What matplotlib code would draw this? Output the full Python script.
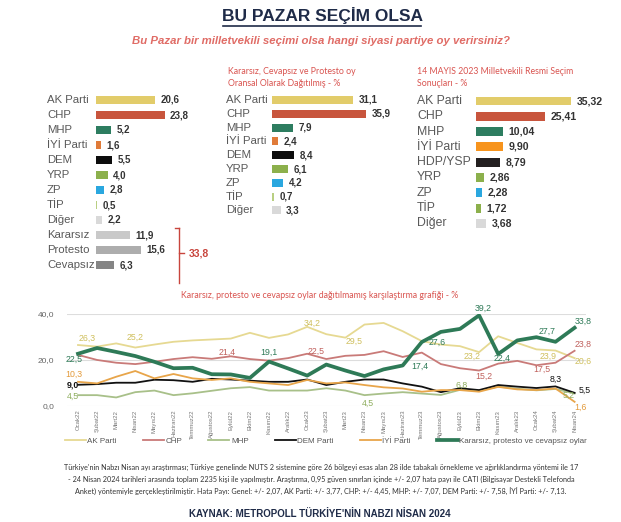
import matplotlib
matplotlib.use('Agg')
import matplotlib.pyplot as plt
from matplotlib.transforms import blended_transform_factory
from matplotlib.lines import Line2D

plt.rcParams['font.family'] = ['Liberation Sans', 'DejaVu Sans']

# ---------------- data ----------------
p1_labels = ['AK Parti', 'CHP', 'MHP', 'İYİ Parti', 'DEM', 'YRP', 'ZP', 'TİP', 'Diğer',
             'Kararsız', 'Protesto', 'Cevapsız']
p1_values = [20.6, 23.8, 5.2, 1.6, 5.5, 4.0, 2.8, 0.5, 2.2, 11.9, 15.6, 6.3]

p2_labels = ['AK Parti', 'CHP', 'MHP', 'İYİ Parti', 'DEM', 'YRP', 'ZP', 'TİP', 'Diğer']
p2_values = [31.1, 35.9, 7.9, 2.4, 8.4, 6.1, 4.2, 0.7, 3.3]

p3_labels = ['AK Parti', 'CHP', 'MHP', 'İYİ Parti', 'HDP/YSP', 'YRP', 'ZP', 'TİP', 'Diğer']
p3_values = [35.32, 25.41, 10.04, 9.90, 8.79, 2.86, 2.28, 1.72, 3.68]

months = ['Ocak22', 'Şubat22', 'Mart22', 'Nisan22', 'Mayıs22', 'Haziran22', 'Temmuz22',
          'Ağustos22', 'Eylül22', 'Ekim22', 'Kasım22', 'Aralık22', 'Ocak23', 'Şubat23',
          'Mart23', 'Nisan23', 'Mayıs23', 'Haziran23', 'Temmuz23', 'Ağustos23', 'Eylül23',
          'Ekim23', 'Kasım23', 'Aralık23', 'Ocak24', 'Şubat24', 'Nisan24']
ak_parti = [26.3, 25.6, 27.0, 25.2, 26.5, 27.7, 28.3, 28.7, 29.1, 31.6, 29.4, 30.9, 34.2, 31.0,
            29.5, 35.2, 35.9, 32.3, 28.0, 26.5, 25.8, 23.2, 30.1, 27.2, 24.4, 23.9, 20.6]
chp = [22.0, 19.8, 18.6, 18.0, 19.0, 20.2, 21.0, 20.3, 21.4, 20.2, 19.5, 20.6, 22.5, 20.2,
       21.6, 22.0, 23.6, 21.1, 23.0, 18.0, 16.2, 15.2, 18.2, 19.4, 17.5, 18.6, 23.8]
mhp = [4.5, 4.5, 3.5, 5.8, 6.5, 4.5, 5.3, 6.4, 7.5, 8.0, 6.5, 6.5, 6.5, 7.5, 6.5, 4.5, 5.2,
       5.8, 5.2, 4.6, 6.8, 6.5, 8.2, 7.3, 6.6, 7.2, 5.2]
dem = [9.0, 9.3, 9.9, 9.9, 11.2, 11.0, 10.3, 11.6, 11.3, 10.8, 10.3, 10.3, 11.3, 8.9, 10.3,
       11.3, 11.3, 9.6, 8.2, 5.8, 7.5, 6.7, 8.9, 8.2, 7.6, 8.3, 5.5]
iyi = [10.3, 9.6, 12.5, 15.0, 11.8, 13.7, 11.8, 11.1, 11.8, 10.3, 9.6, 8.9, 11.1, 9.6, 10.0,
       8.9, 7.9, 7.4, 6.0, 6.7, 6.7, 6.0, 8.1, 7.0, 6.7, 7.4, 1.6]
kararsiz = [22.5, 25.0, 23.3, 21.5, 19.0, 16.2, 16.4, 13.6, 13.5, 12.0, 19.1, 16.1, 13.0, 17.8,
            15.2, 12.8, 15.7, 17.4, 27.6, 32.0, 33.3, 39.2, 22.4, 28.3, 29.7, 27.7, 33.8]

# ---------------- figure ----------------
W, H = 621, 522
fig = plt.figure(figsize=(W / 100, H / 100), dpi=100)
fig.patch.set_facecolor('white')


def fx(x):
    return x / W


def fy(y):
    return 1 - y / H


def comma(v, d=1):
    return f"{v:.{d}f}".replace('.', ',')


NAVY = '#1f2b48'
RED_T = '#d9534f'

# titles
fig.text(fx(322), fy(15), 'BU PAZAR SEÇİM OLSA', ha='center', va='center',
         fontsize=12.5, fontweight='bold', color=NAVY)
fig.add_artist(Line2D([fx(223), fx(421)], [fy(25.5), fy(25.5)], color=NAVY, lw=1.2))
fig.text(fx(321), fy(41), 'Bu Pazar bir milletvekili seçimi olsa hangi siyasi partiye oy verirsiniz?',
         ha='center', va='center', fontsize=8.2, fontweight='bold', style='italic', color='#e06c66')

fig.text(fx(228), fy(71), 'Kararsız, Cevapsız ve Protesto oy', ha='left', va='center',
         fontsize=6.3, color=RED_T, family=['Lato', 'DejaVu Sans'])
fig.text(fx(228), fy(84), 'Oransal Olarak Dağıtılmış - %', ha='left', va='center',
         fontsize=6.3, color=RED_T, family=['Lato', 'DejaVu Sans'])
fig.text(fx(417), fy(71), '14 MAYIS 2023 Milletvekili Resmi Seçim', ha='left', va='center',
         fontsize=6.3, color=RED_T, family=['Lato', 'DejaVu Sans'])
fig.text(fx(417), fy(84), 'Sonuçları - %', ha='left', va='center',
         fontsize=6.3, color=RED_T, family=['Lato', 'DejaVu Sans'])


def bar_panel(left_px, scale, xmax, first_row_px, spacing, labels, values, colors, dec,
              label_x_px, lab_fs, val_fs, bar_h, val_off=4):
    n = len(labels)
    width_px = scale * xmax
    top = first_row_px - spacing / 2
    height_px = spacing * n
    ax = fig.add_axes([fx(left_px), fy(top + height_px), width_px / W, height_px / H])
    ax.set_xlim(0, xmax)
    ax.set_ylim(n - 0.5, -0.5)
    ax.axis('off')
    ax.barh(range(n), values, height=bar_h, color=colors)
    tr = blended_transform_factory(ax.transAxes, ax.transData)
    for i, (lab, v) in enumerate(zip(labels, values)):
        ax.text((label_x_px - left_px) / width_px, i, lab, transform=tr, ha='left',
                va='center', fontsize=lab_fs, color='#595959')
        ax.annotate(comma(v, dec), (v, i), xytext=(val_off, 0), textcoords='offset points',
                    ha='left', va='center', fontsize=val_fs, fontweight='bold', color='#333333')
    return ax


c_ak, c_chp, c_mhp, c_iyi, c_dem = '#e2cc6a', '#c8553d', '#2d7d60', '#e07b39', '#0d0d0d'
c_yrp, c_zp, c_tip, c_dig = '#8cb04c', '#2aa7df', '#b9cf82', '#d9d9d9'

p1_colors = [c_ak, c_chp, c_mhp, c_iyi, c_dem, c_yrp, c_zp, c_tip, c_dig,
             '#c9c9c9', '#adadad', '#858585']
ax1 = bar_panel(96, 2.88, 30, 100, 15, p1_labels, p1_values, p1_colors, 1, 47, 8.2, 7, 0.55)

p2_colors = [c_ak, c_chp, c_mhp, c_iyi, c_dem, c_yrp, c_zp, c_tip, c_dig]
bar_panel(272, 2.62, 40, 100, 13.8, p2_labels, p2_values, p2_colors, 1, 226, 8.2, 7, 0.58)

p3_colors = [c_ak, c_chp, c_mhp, '#f7941d', '#231f20', '#8cb04c', '#2aa7df', '#8cb04c', c_dig]
bar_panel(476, 2.70, 40, 101, 15.3, p3_labels, p3_values, p3_colors, 2, 417, 8.8, 7.6, 0.58)

# bracket for undecided / protest / no answer
tot = sum(p1_values[9:])
bx = 179
for xs, ys in [([175, bx], [228, 228]), ([bx, bx], [228, 283]), ([bx, 184], [253, 253])]:
    fig.add_artist(Line2D([fx(v) for v in xs], [fy(v) for v in ys], color='#c8453d', lw=1.0))
fig.text(fx(189), fy(253), comma(tot), ha='left', va='center', fontsize=7.5,
         fontweight='bold', color='#c8453d')

# ---------------- line chart ----------------
x0, dx = 78, 19.1
y0, dy = 405.5, 2.3
xl, xr = -0.6, 26.6
axl = fig.add_axes([fx(x0 + xl * dx), fy(y0), (xr - xl) * dx / W, 40 * dy / H])
axl.set_xlim(xl, xr)
axl.set_ylim(0, 40)
xs = list(range(len(months)))

col_ak, col_chp, col_mhp, col_dem, col_iyi, col_k = '#e6d992', '#c97a78', '#a8c089', '#111111', '#e8a54a', '#2e7a57'
axl.plot(xs, ak_parti, color=col_ak, lw=1.3, label='AK Parti')
axl.plot(xs, chp, color=col_chp, lw=1.3, label='CHP')
axl.plot(xs, mhp, color=col_mhp, lw=1.3, label='MHP')
axl.plot(xs, dem, color=col_dem, lw=1.3, label='DEM Parti')
axl.plot(xs, iyi, color=col_iyi, lw=1.3, label='İYİ Parti')
axl.plot(xs, kararsiz, color=col_k, lw=2.7, label='Kararsız, protesto ve cevapsız oylar')

axl.set_yticks([0, 20, 40])
axl.set_yticklabels(['0,0', '20,0', '40,0'], fontsize=6, color='#666666')
axl.set_xticks(xs)
axl.set_xticklabels(months, rotation=90, fontsize=4.3, color='#777777')
axl.tick_params(axis='x', length=0, pad=3)
axl.tick_params(axis='y', length=0, pad=9)
axl.grid(axis='y', color='#dddddd', lw=0.8)
axl.set_axisbelow(True)
for s in axl.spines.values():
    s.set_visible(False)

fig.text(fx(320), fy(296), 'Kararsız, protesto ve cevapsız oylar dağıtılmamış karşılaştırma grafiği - %',
         ha='center', va='center', fontsize=6.3, color=RED_T, family=['Lato', 'DejaVu Sans'])

lab_ak, lab_chp, lab_mhp, lab_dem, lab_iyi, lab_k = '#cfbf5c', '#c0605c', '#8fae5f', '#111111', '#e39a3a', '#2e7a57'
annots = [
    (ak_parti, 0, lab_ak, 9, 7, 'center', 'normal'),
    (ak_parti, 3, lab_ak, 0, 10, 'center', 'normal'),
    (kararsiz, 0, lab_k, -3.5, -6, 'center', 'normal'),
    (iyi, 0, lab_iyi, -4, 7, 'center', 'normal'),
    (dem, 0, lab_dem, -5, 0, 'center', 'bold'),
    (mhp, 0, lab_mhp, -5, -1, 'center', 'normal'),
    (chp, 8, lab_chp, -4, 4, 'center', 'normal'),
    (kararsiz, 10, lab_k, 0, 9, 'center', 'normal'),
    (chp, 12, lab_chp, 9, 2, 'center', 'normal'),
    (ak_parti, 12, lab_ak, 5, 4, 'center', 'normal'),
    (ak_parti, 14, lab_ak, 9, -4, 'center', 'normal'),
    (kararsiz, 17, lab_k, 17, -1, 'center', 'normal'),
    (kararsiz, 18, lab_k, 15, 0, 'center', 'normal'),
    (mhp, 15, lab_mhp, 3, -8, 'center', 'normal'),
    (mhp, 20, lab_mhp, 2, 5, 'center', 'normal'),
    (ak_parti, 21, lab_ak, -7, -4, 'center', 'normal'),
    (kararsiz, 21, lab_k, 4, 7, 'center', 'normal'),
    (kararsiz, 22, lab_k, 4, -4, 'center', 'normal'),
    (chp, 21, lab_chp, 5, -6, 'center', 'normal'),
    (kararsiz, 25, lab_k, -8, 10, 'center', 'normal'),
    (ak_parti, 25, lab_ak, -7, -6, 'center', 'normal'),
    (chp, 24, lab_chp, 5, -4, 'center', 'normal'),
    (dem, 25, lab_dem, 0, 7, 'center', 'normal'),
    (kararsiz, 26, lab_k, 0, 6, 'left', 'normal'),
    (chp, 26, lab_chp, 0, 6, 'left', 'normal'),
    (ak_parti, 26, lab_ak, 0, -3.5, 'left', 'normal'),
    (dem, 26, lab_dem, 4, 3, 'left', 'normal'),
    (mhp, 26, lab_mhp, -6, -2, 'center', 'normal'),
    (iyi, 26, lab_iyi, 0, -5, 'left', 'normal'),
]
for ser, i, col, ox, oy, ha, fw in annots:
    axl.annotate(comma(ser[i]), (i, ser[i]), xytext=(ox * 0.72, oy * 0.72),
                 textcoords='offset points', ha=ha, va='center', fontsize=6.3,
                 color=col, fontweight=fw, annotation_clip=False)

fig.legend(*axl.get_legend_handles_labels(), loc='center', bbox_to_anchor=(fx(326), fy(441)),
           ncol=6, frameon=False, fontsize=5.8, handlelength=2.6, columnspacing=3.25,
           handletextpad=0.2, labelcolor='#555555')

# ---------------- footer ----------------
foot = [
    "Türkiye'nin Nabzı Nisan ayı araştırması; Türkiye genelinde NUTS 2 sistemine göre 26 bölgeyi esas alan 28 ilde tabakalı örnekleme ve ağırlıklandırma yöntemi ile 17",
    "- 24 Nisan 2024 tarihleri arasında toplam 2235 kişi ile yapılmıştır. Araştırma, 0,95 güven sınırları içinde +/- 2,07 hata payı ile CATI (Bilgisayar Destekli Telefonda",
    "Anket) yöntemiyle gerçekleştirilmiştir. Hata Payı: Genel: +/- 2,07, AK Parti: +/- 3,77, CHP: +/- 4,45, MHP: +/- 7,07, DEM Parti: +/- 7,58, İYİ Parti: +/- 7,13.",
]
for k, line in enumerate(foot):
    fig.text(fx(321), fy(467 + 12.5 * k), line, ha='center', va='center', fontsize=5.2,
             color='#333333', family=['Lato', 'DejaVu Sans'])

fig.text(fx(320), fy(514), "KAYNAK: METROPOLL TÜRKİYE'NİN NABZI NİSAN 2024", ha='center',
         va='center', fontsize=7, fontweight='bold', color=NAVY)

fig.savefig('out.png', dpi=100, facecolor='white')
